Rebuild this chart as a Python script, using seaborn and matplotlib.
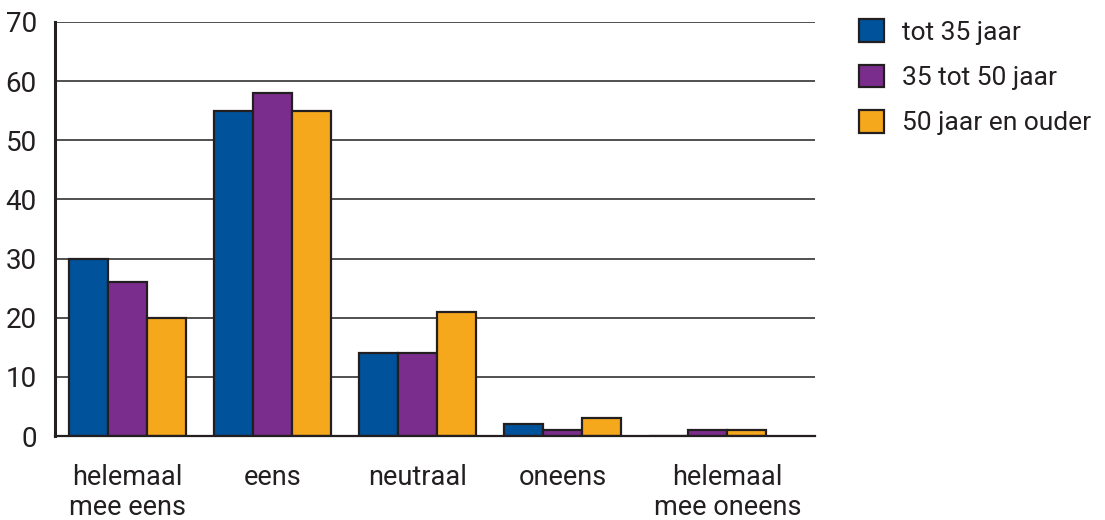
import matplotlib
matplotlib.use("Agg")
import matplotlib.pyplot as plt
import matplotlib.transforms as mtransforms
import seaborn as sns
import pandas as pd

categories = ["helemaal\nmee eens", "eens", "neutraal", "oneens", "helemaal\nmee oneens"]
series_names = ["tot 35 jaar", "35 tot 50 jaar", "50 jaar en ouder"]
tot35 = [30, 55, 14, 2, 0]
tot50 = [26, 58, 14, 1, 1]
ouder50 = [20, 55, 21, 3, 1]
colors = ["#00529b", "#7b2d8e", "#f6a81c"]
yticks = [0, 10, 20, 30, 40, 50, 60, 70]

rows = []
for name, vals in zip(series_names, [tot35, tot50, ouder50]):
    for c, v in zip(categories, vals):
        rows.append({"categorie": c, "groep": name, "waarde": v})
df = pd.DataFrame(rows)

sns.set_theme(style="white")
plt.rcParams['font.family'] = ['Roboto', 'DejaVu Sans']

fig = plt.figure(figsize=(11.05, 5.2), dpi=100)
ax = fig.add_axes([0.0498, 0.1615, 0.6878, 0.7962])
sns.barplot(data=df, x="categorie", y="waarde", hue="groep", order=categories,
            hue_order=series_names, palette=colors, width=0.81, ax=ax,
            edgecolor="#231f20", linewidth=1.6, saturation=1, legend=True)

ax.set_ylim(0, 70)
ax.set_xlim(-0.5, 4.74)
ax.set_yticks(yticks)
ax.set_yticklabels([str(t) for t in yticks], fontsize=20, color="#231f20")
ax.tick_params(axis="x", labelsize=19.5, colors="#231f20", pad=20, length=0)
ax.tick_params(axis="y", pad=13, length=0)
xlabs = ax.get_xticklabels()
for lab in xlabs:
    lab.set_linespacing(1.15)
# last category label sits slightly right of its bar group in the reference
xlabs[-1].set_transform(xlabs[-1].get_transform() +
                        mtransforms.ScaledTranslation(0.2, 0, fig.dpi_scale_trans))
ax.set_xlabel("")
ax.set_ylabel("")
ax.yaxis.grid(True, color="#231f20", linewidth=1.1)
ax.set_axisbelow(True)
for s in ["top", "right"]:
    ax.spines[s].set_visible(False)
ax.spines["left"].set_color("#231f20")
ax.spines["left"].set_linewidth(2.2)
ax.spines["bottom"].set_color("#231f20")
ax.spines["bottom"].set_linewidth(1.6)

handles, labels = ax.get_legend_handles_labels()
ax.get_legend().remove()
fig.legend(handles, labels, loc="upper left", bbox_to_anchor=(0.765, 0.988),
           frameon=False, fontsize=19, handlelength=0.95, handleheight=0.95,
           handletextpad=0.7, labelspacing=0.75, borderpad=0.2, borderaxespad=0.3,
           labelcolor="#231f20")

fig.savefig("out.png", dpi=100)
